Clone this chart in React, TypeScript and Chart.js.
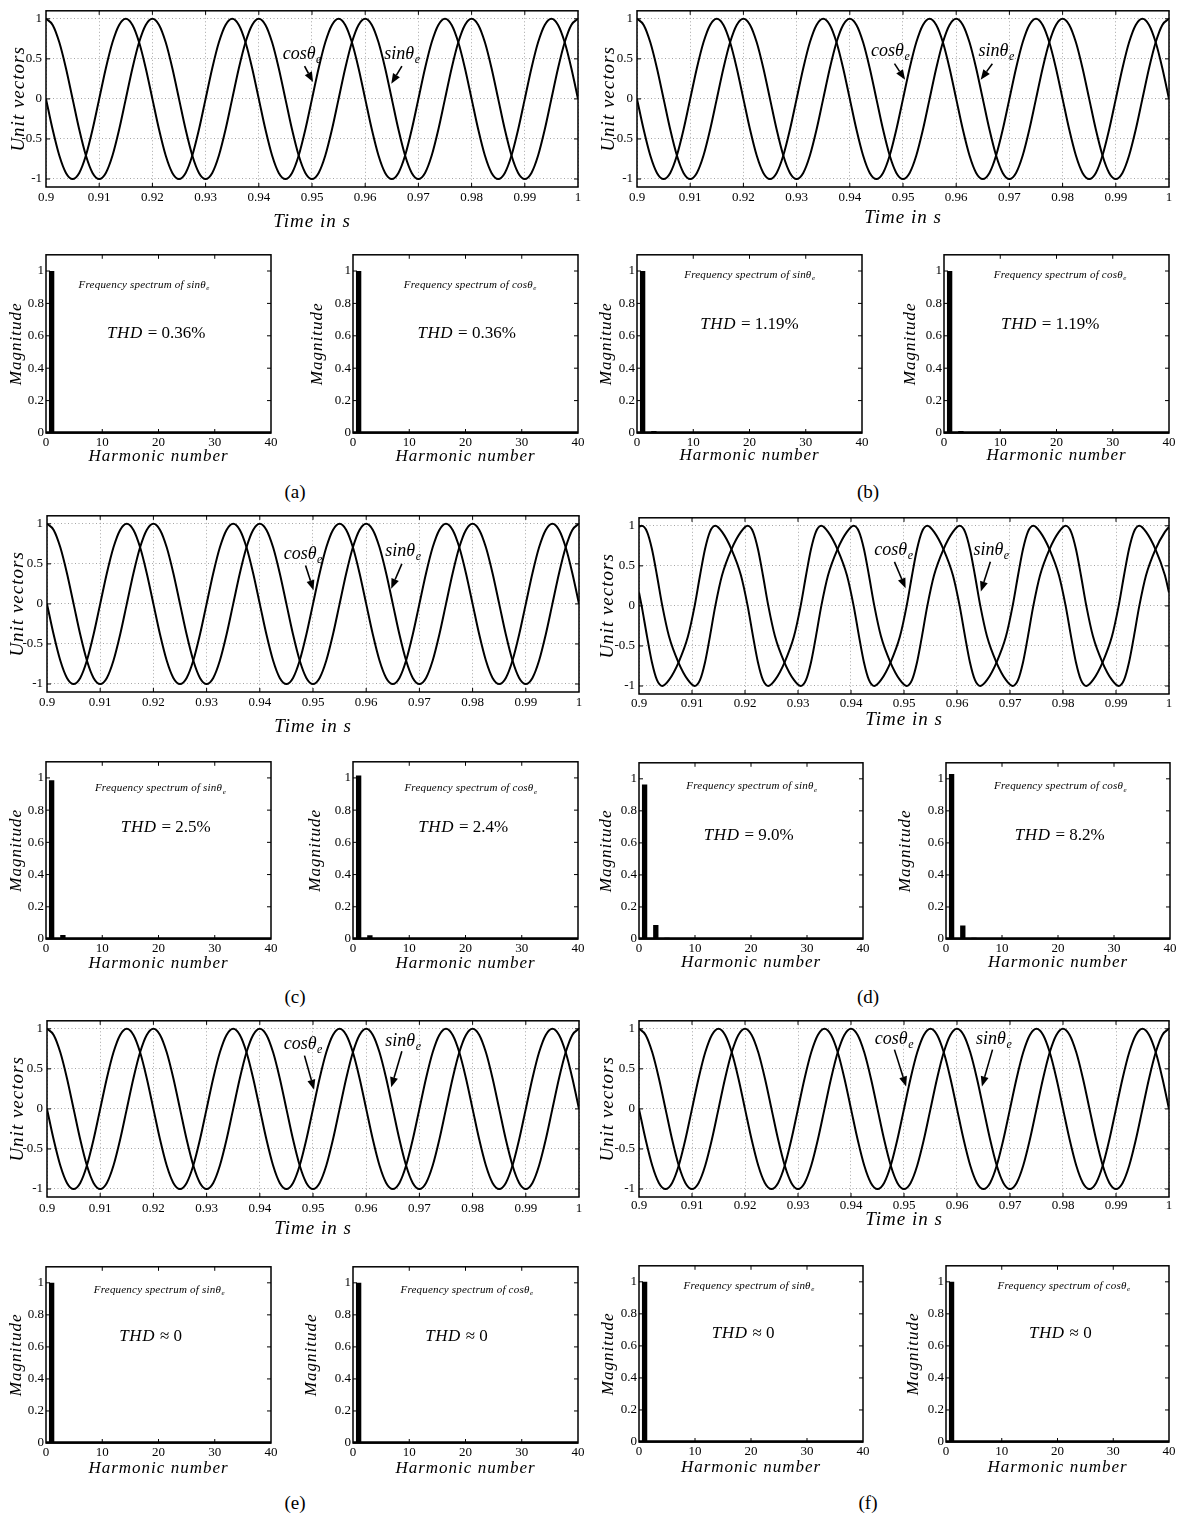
import React, { useEffect, useRef } from "react";
import { Chart, registerables } from "chart.js";
Chart.register(...registerables);

const SERIF = '"Liberation Serif", "Times New Roman", serif';

// ---------------- data ----------------
// time axis (s) for the undistorted unit vectors, panels a, b, c, e, f
const timePure = [
  0.9, 0.90125, 0.9025, 0.90375, 0.905, 0.90625, 0.9075, 0.90875,
  0.91, 0.91125, 0.9125, 0.91375, 0.915, 0.91625, 0.9175, 0.91875,
  0.92, 0.92125, 0.9225, 0.92375, 0.925, 0.92625, 0.9275, 0.92875,
  0.93, 0.93125, 0.9325, 0.93375, 0.935, 0.93625, 0.9375, 0.93875,
  0.94, 0.94125, 0.9425, 0.94375, 0.945, 0.94625, 0.9475, 0.94875,
  0.95, 0.95125, 0.9525, 0.95375, 0.955, 0.95625, 0.9575, 0.95875,
  0.96, 0.96125, 0.9625, 0.96375, 0.965, 0.96625, 0.9675, 0.96875,
  0.97, 0.97125, 0.9725, 0.97375, 0.975, 0.97625, 0.9775, 0.97875,
  0.98, 0.98125, 0.9825, 0.98375, 0.985, 0.98625, 0.9875, 0.98875,
  0.99, 0.99125, 0.9925, 0.99375, 0.995, 0.99625, 0.9975, 0.99875,
  1,
];
const sinPure = [
  1, 0.924, 0.707, 0.383, 0, -0.383, -0.707, -0.924,
  -1, -0.924, -0.707, -0.383, 0, 0.383, 0.707, 0.924,
  1, 0.924, 0.707, 0.383, 0, -0.383, -0.707, -0.924,
  -1, -0.924, -0.707, -0.383, 0, 0.383, 0.707, 0.924,
  1, 0.924, 0.707, 0.383, 0, -0.383, -0.707, -0.924,
  -1, -0.924, -0.707, -0.383, 0, 0.383, 0.707, 0.924,
  1, 0.924, 0.707, 0.383, 0, -0.383, -0.707, -0.924,
  -1, -0.924, -0.707, -0.383, 0, 0.383, 0.707, 0.924,
  1, 0.924, 0.707, 0.383, 0, -0.383, -0.707, -0.924,
  -1, -0.924, -0.707, -0.383, 0, 0.383, 0.707, 0.924,
  1,
];
const cosPure = [
  0, -0.383, -0.707, -0.924, -1, -0.924, -0.707, -0.383,
  0, 0.383, 0.707, 0.924, 1, 0.924, 0.707, 0.383,
  0, -0.383, -0.707, -0.924, -1, -0.924, -0.707, -0.383,
  0, 0.383, 0.707, 0.924, 1, 0.924, 0.707, 0.383,
  0, -0.383, -0.707, -0.924, -1, -0.924, -0.707, -0.383,
  0, 0.383, 0.707, 0.924, 1, 0.924, 0.707, 0.383,
  0, -0.383, -0.707, -0.924, -1, -0.924, -0.707, -0.383,
  0, 0.383, 0.707, 0.924, 1, 0.924, 0.707, 0.383,
  0, -0.383, -0.707, -0.924, -1, -0.924, -0.707, -0.383,
  0, 0.383, 0.707, 0.924, 1, 0.924, 0.707, 0.383,
  0,
];
// distorted unit vectors, panel d (times where the curves pass the read levels)
const timeDist = [
  0.9,
  0.9005, 0.90152, 0.90245, 0.90338, 0.9044, 0.90567, 0.90745, 0.90923,
  0.9105, 0.91152, 0.91245, 0.91338, 0.9144, 0.91567, 0.91745, 0.91923,
  0.9205, 0.92152, 0.92245, 0.92338, 0.9244, 0.92567, 0.92745, 0.92923,
  0.9305, 0.93152, 0.93245, 0.93338, 0.9344, 0.93567, 0.93745, 0.93923,
  0.9405, 0.94152, 0.94245, 0.94338, 0.9444, 0.94567, 0.94745, 0.94923,
  0.9505, 0.95152, 0.95245, 0.95338, 0.9544, 0.95567, 0.95745, 0.95923,
  0.9605, 0.96152, 0.96245, 0.96338, 0.9644, 0.96567, 0.96745, 0.96923,
  0.9705, 0.97152, 0.97245, 0.97338, 0.9744, 0.97567, 0.97745, 0.97923,
  0.9805, 0.98152, 0.98245, 0.98338, 0.9844, 0.98567, 0.98745, 0.98923,
  0.9905, 0.99152, 0.99245, 0.99338, 0.9944, 0.99567, 0.99745, 0.99923,
  1,
];
const sinDist = [
  0.986,
  1, 0.924, 0.707, 0.383, 0, -0.383, -0.707, -0.924,
  -1, -0.924, -0.707, -0.383, 0, 0.383, 0.707, 0.924,
  1, 0.924, 0.707, 0.383, 0, -0.383, -0.707, -0.924,
  -1, -0.924, -0.707, -0.383, 0, 0.383, 0.707, 0.924,
  1, 0.924, 0.707, 0.383, 0, -0.383, -0.707, -0.924,
  -1, -0.924, -0.707, -0.383, 0, 0.383, 0.707, 0.924,
  1, 0.924, 0.707, 0.383, 0, -0.383, -0.707, -0.924,
  -1, -0.924, -0.707, -0.383, 0, 0.383, 0.707, 0.924,
  1, 0.924, 0.707, 0.383, 0, -0.383, -0.707, -0.924,
  -1, -0.924, -0.707, -0.383, 0, 0.383, 0.707, 0.924,
  0.986,
];
const cosDist = [
  0.167,
  0, -0.383, -0.707, -0.924, -1, -0.924, -0.707, -0.383,
  0, 0.383, 0.707, 0.924, 1, 0.924, 0.707, 0.383,
  0, -0.383, -0.707, -0.924, -1, -0.924, -0.707, -0.383,
  0, 0.383, 0.707, 0.924, 1, 0.924, 0.707, 0.383,
  0, -0.383, -0.707, -0.924, -1, -0.924, -0.707, -0.383,
  0, 0.383, 0.707, 0.924, 1, 0.924, 0.707, 0.383,
  0, -0.383, -0.707, -0.924, -1, -0.924, -0.707, -0.383,
  0, 0.383, 0.707, 0.924, 1, 0.924, 0.707, 0.383,
  0, -0.383, -0.707, -0.924, -1, -0.924, -0.707, -0.383,
  0, 0.383, 0.707, 0.924, 1, 0.924, 0.707, 0.383,
  0.167,
];

const timeTicks = [0.9, 0.91, 0.92, 0.93, 0.94, 0.95, 0.96, 0.97, 0.98, 0.99, 1];
const unitTicks = [-1, -0.5, 0, 0.5, 1];
const harmonicTicks = [0, 10, 20, 30, 40];
const magnitudeTicks = [0, 0.2, 0.4, 0.6, 0.8, 1];

const harmonicNumbers = [
  1, 2, 3, 4, 5, 6, 7, 8, 9, 10, 11, 12, 13, 14, 15, 16, 17, 18, 19, 20,
  21, 22, 23, 24, 25, 26, 27, 28, 29, 30, 31, 32, 33, 34, 35, 36, 37, 38, 39, 40,
];
const specSinA = [1, 0, 0.003, 0, 0.001, 0, 0, 0, 0, 0, 0, 0, 0, 0, 0, 0, 0, 0, 0, 0, 0, 0, 0, 0, 0, 0, 0, 0, 0, 0, 0, 0, 0, 0, 0, 0, 0, 0, 0, 0];
const specCosA = [1, 0, 0.003, 0, 0.001, 0, 0, 0, 0, 0, 0, 0, 0, 0, 0, 0, 0, 0, 0, 0, 0, 0, 0, 0, 0, 0, 0, 0, 0, 0, 0, 0, 0, 0, 0, 0, 0, 0, 0, 0];
const specSinB = [1, 0, 0.012, 0, 0.002, 0, 0, 0, 0, 0, 0, 0, 0, 0, 0, 0, 0, 0, 0, 0, 0, 0, 0, 0, 0, 0, 0, 0, 0, 0, 0, 0, 0, 0, 0, 0, 0, 0, 0, 0];
const specCosB = [1, 0, 0.012, 0, 0.002, 0, 0, 0, 0, 0, 0, 0, 0, 0, 0, 0, 0, 0, 0, 0, 0, 0, 0, 0, 0, 0, 0, 0, 0, 0, 0, 0, 0, 0, 0, 0, 0, 0, 0, 0];
const specSinC = [0.985, 0, 0.025, 0, 0.003, 0, 0, 0, 0, 0, 0, 0, 0, 0, 0, 0, 0, 0, 0, 0, 0, 0, 0, 0, 0, 0, 0, 0, 0, 0, 0, 0, 0, 0, 0, 0, 0, 0, 0, 0];
const specCosC = [1.015, 0, 0.024, 0, 0.003, 0, 0, 0, 0, 0, 0, 0, 0, 0, 0, 0, 0, 0, 0, 0, 0, 0, 0, 0, 0, 0, 0, 0, 0, 0, 0, 0, 0, 0, 0, 0, 0, 0, 0, 0];
const specSinD = [0.965, 0, 0.088, 0, 0.008, 0, 0.002, 0, 0, 0, 0, 0, 0, 0, 0, 0, 0, 0, 0, 0, 0, 0, 0, 0, 0, 0, 0, 0, 0, 0, 0, 0, 0, 0, 0, 0, 0, 0, 0, 0];
const specCosD = [1.03, 0, 0.084, 0, 0.008, 0, 0.002, 0, 0, 0, 0, 0, 0, 0, 0, 0, 0, 0, 0, 0, 0, 0, 0, 0, 0, 0, 0, 0, 0, 0, 0, 0, 0, 0, 0, 0, 0, 0, 0, 0];
const specSinE = [1, 0, 0, 0, 0, 0, 0, 0, 0, 0, 0, 0, 0, 0, 0, 0, 0, 0, 0, 0, 0, 0, 0, 0, 0, 0, 0, 0, 0, 0, 0, 0, 0, 0, 0, 0, 0, 0, 0, 0];
const specCosE = [1, 0, 0, 0, 0, 0, 0, 0, 0, 0, 0, 0, 0, 0, 0, 0, 0, 0, 0, 0, 0, 0, 0, 0, 0, 0, 0, 0, 0, 0, 0, 0, 0, 0, 0, 0, 0, 0, 0, 0];
const specSinF = [1, 0, 0, 0, 0, 0, 0, 0, 0, 0, 0, 0, 0, 0, 0, 0, 0, 0, 0, 0, 0, 0, 0, 0, 0, 0, 0, 0, 0, 0, 0, 0, 0, 0, 0, 0, 0, 0, 0, 0];
const specCosF = [1, 0, 0, 0, 0, 0, 0, 0, 0, 0, 0, 0, 0, 0, 0, 0, 0, 0, 0, 0, 0, 0, 0, 0, 0, 0, 0, 0, 0, 0, 0, 0, 0, 0, 0, 0, 0, 0, 0, 0];

const thdSinLabels = ["= 0.36%", "= 1.19%", "= 2.5%", "= 9.0%", "≈ 0", "≈ 0"];
const thdCosLabels = ["= 0.36%", "= 1.19%", "= 2.4%", "= 8.2%", "≈ 0", "≈ 0"];
const panelLabels = ["(a)", "(b)", "(c)", "(d)", "(e)", "(f)"];

// ---------------- layout ----------------
type Box = { L: number; R: number; T: number; B: number };
type Pt = [number, number];
type Arr = [number, number, number, number];

const timePanels = [
  { box: { L: 46, R: 578, T: 7, B: 187 }, tickPad: 4, titleOff: 35, yTitleOff: 27, time: timePure, sin: sinPure, cos: cosPure,
    cosText: [0.9445, 0.5] as Pt, cosArrow: [0.9486, 0.41, 0.9502, 0.21] as Arr, sinText: [0.9636, 0.5] as Pt, sinArrow: [0.9669, 0.41, 0.9649, 0.19] as Arr },
  { box: { L: 637, R: 1169, T: 7, B: 187 }, tickPad: 4, titleOff: 31, yTitleOff: 28, time: timePure, sin: sinPure, cos: cosPure,
    cosText: [0.944, 0.53] as Pt, cosArrow: [0.9484, 0.44, 0.9504, 0.24] as Arr, sinText: [0.9642, 0.53] as Pt, sinArrow: [0.9668, 0.44, 0.9646, 0.24] as Arr },
  { box: { L: 47, R: 579, T: 512, B: 692 }, tickPad: 4, titleOff: 35, yTitleOff: 29, time: timePure, sin: sinPure, cos: cosPure,
    cosText: [0.9445, 0.56] as Pt, cosArrow: [0.9486, 0.48, 0.9501, 0.17] as Arr, sinText: [0.9636, 0.6] as Pt, sinArrow: [0.9667, 0.5, 0.9647, 0.19] as Arr },
  { box: { L: 639, R: 1169, T: 514, B: 694 }, tickPad: 3, titleOff: 26, yTitleOff: 31, time: timeDist, sin: sinDist, cos: cosDist,
    cosText: [0.9444, 0.64] as Pt, cosArrow: [0.9482, 0.55, 0.9503, 0.22] as Arr, sinText: [0.9631, 0.64] as Pt, sinArrow: [0.9663, 0.55, 0.9645, 0.18] as Arr },
  { box: { L: 47, R: 579, T: 1017, B: 1197 }, tickPad: 5, titleOff: 32, yTitleOff: 29, time: timePure, sin: sinPure, cos: cosPure,
    cosText: [0.9445, 0.75] as Pt, cosArrow: [0.9484, 0.665, 0.9502, 0.24] as Arr, sinText: [0.9636, 0.79] as Pt, sinArrow: [0.9667, 0.72, 0.9647, 0.27] as Arr },
  { box: { L: 639, R: 1169, T: 1017, B: 1197 }, tickPad: 2, titleOff: 23, yTitleOff: 31, time: timePure, sin: sinPure, cos: cosPure,
    cosText: [0.9445, 0.81] as Pt, cosArrow: [0.9482, 0.74, 0.9504, 0.28] as Arr, sinText: [0.9636, 0.81] as Pt, sinArrow: [0.9667, 0.74, 0.9647, 0.28] as Arr },
];

const specPanels = [
  { box: { L: 46, R: 271, T: 253, B: 433 }, titleOff: 24, yTitleOff: 29, vals: specSinA, which: "sin", freq: [17.4, 0.922] as Pt, thd: [19.6, 0.626] as Pt, thdLabel: thdSinLabels[0] },
  { box: { L: 353, R: 578, T: 253, B: 433 }, titleOff: 24, yTitleOff: 35, vals: specCosA, which: "cos", freq: [20.8, 0.922] as Pt, thd: [20.2, 0.626] as Pt, thdLabel: thdCosLabels[0] },
  { box: { L: 637, R: 862, T: 253, B: 433 }, titleOff: 23, yTitleOff: 30, vals: specSinB, which: "sin", freq: [20.0, 0.983] as Pt, thd: [20.0, 0.681] as Pt, thdLabel: thdSinLabels[1] },
  { box: { L: 944, R: 1169, T: 253, B: 433 }, titleOff: 23, yTitleOff: 33, vals: specCosB, which: "cos", freq: [20.6, 0.983] as Pt, thd: [18.9, 0.681] as Pt, thdLabel: thdCosLabels[1] },
  { box: { L: 46, R: 271, T: 760, B: 939 }, titleOff: 25, yTitleOff: 29, vals: specSinC, which: "sin", freq: [20.3, 0.943] as Pt, thd: [21.3, 0.7] as Pt, thdLabel: thdSinLabels[2] },
  { box: { L: 353, R: 578, T: 760, B: 939 }, titleOff: 25, yTitleOff: 37, vals: specCosC, which: "cos", freq: [20.9, 0.943] as Pt, thd: [19.6, 0.7] as Pt, thdLabel: thdCosLabels[2] },
  { box: { L: 639, R: 863, T: 761, B: 939 }, titleOff: 24, yTitleOff: 32, vals: specSinD, which: "sin", freq: [20.1, 0.96] as Pt, thd: [19.6, 0.657] as Pt, thdLabel: thdSinLabels[3] },
  { box: { L: 946, R: 1170, T: 761, B: 939 }, titleOff: 24, yTitleOff: 40, vals: specCosD, which: "cos", freq: [20.4, 0.96] as Pt, thd: [20.3, 0.653] as Pt, thdLabel: thdCosLabels[3] },
  { box: { L: 46, R: 271, T: 1265, B: 1443 }, titleOff: 26, yTitleOff: 29, vals: specSinE, which: "sin", freq: [20.1, 0.962] as Pt, thd: [18.6, 0.672] as Pt, thdLabel: thdSinLabels[4] },
  { box: { L: 353, R: 578, T: 1265, B: 1443 }, titleOff: 26, yTitleOff: 41, vals: specCosE, which: "cos", freq: [20.2, 0.962] as Pt, thd: [18.4, 0.672] as Pt, thdLabel: thdCosLabels[4] },
  { box: { L: 639, R: 863, T: 1264, B: 1442 }, titleOff: 26, yTitleOff: 30, vals: specSinF, which: "sin", freq: [19.6, 0.98] as Pt, thd: [18.6, 0.687] as Pt, thdLabel: thdSinLabels[5] },
  { box: { L: 946, R: 1169, T: 1264, B: 1442 }, titleOff: 26, yTitleOff: 32, vals: specCosF, which: "cos", freq: [21.1, 0.98] as Pt, thd: [20.5, 0.687] as Pt, thdLabel: thdCosLabels[5] },
];

const labelPos: Pt[] = [[295, 492], [868, 492], [295, 997], [868, 997], [295, 1503], [868, 1503]];

// ---------------- drawing helpers ----------------
function line(ctx: CanvasRenderingContext2D, x1: number, y1: number, x2: number, y2: number) {
  ctx.beginPath();
  ctx.moveTo(x1, y1);
  ctx.lineTo(x2, y2);
  ctx.stroke();
}

function drawSub(ctx: CanvasRenderingContext2D, x: number, y: number, main: string, sub: string, size: number, center: boolean) {
  const subSize = Math.round(size * 0.68);
  ctx.font = `italic ${size}px ${SERIF}`;
  const w1 = ctx.measureText(main).width;
  ctx.font = `italic ${subSize}px ${SERIF}`;
  const w2 = ctx.measureText(sub).width;
  const x0 = center ? x - (w1 + w2) / 2 : x;
  ctx.textAlign = "left";
  ctx.textBaseline = "alphabetic";
  ctx.font = `italic ${size}px ${SERIF}`;
  ctx.fillText(main, x0, y);
  ctx.font = `italic ${subSize}px ${SERIF}`;
  ctx.fillText(sub, x0 + w1 + 0.5, y + size * 0.22);
}

function drawArrow(ctx: CanvasRenderingContext2D, x1: number, y1: number, x2: number, y2: number) {
  const a = Math.atan2(y2 - y1, x2 - x1);
  const hl = 10, hw = 4;
  const bx = x2 - hl * Math.cos(a), by = y2 - hl * Math.sin(a);
  ctx.lineWidth = 1.6;
  line(ctx, x1, y1, bx, by);
  ctx.beginPath();
  ctx.moveTo(x2, y2);
  ctx.lineTo(bx + hw * Math.sin(a), by - hw * Math.cos(a));
  ctx.lineTo(bx - hw * Math.sin(a), by + hw * Math.cos(a));
  ctx.closePath();
  ctx.fill();
}

function drawFrame(chart: any, xt: number[], yt: number[], thickBottom: boolean) {
  const { ctx, chartArea: a, scales } = chart;
  ctx.strokeStyle = "#000";
  ctx.lineWidth = 1;
  for (const v of xt) {
    const px = scales.x.getPixelForValue(v);
    if (px <= a.left + 1 || px >= a.right - 1) continue;
    line(ctx, px, a.bottom, px, a.bottom - 4);
    line(ctx, px, a.top, px, a.top + 4);
  }
  for (const v of yt) {
    const py = scales.y.getPixelForValue(v);
    if (py <= a.top + 1 || py >= a.bottom - 1) continue;
    line(ctx, a.left, py, a.left + 4, py);
    line(ctx, a.right, py, a.right - 4, py);
  }
  ctx.lineWidth = 1.5;
  ctx.strokeRect(a.left, a.top, a.right - a.left, a.bottom - a.top);
  if (thickBottom) {
    ctx.lineWidth = 2.5;
    line(ctx, a.left, a.bottom - 0.5, a.right, a.bottom - 0.5);
  }
}

function drawTitles(chart: any, xTitle: string, yTitle: string, size: number, titleOff: number, yTitleOff: number) {
  const { ctx, chartArea: a } = chart;
  ctx.fillStyle = "#000";
  ctx.font = `italic ${size}px ${SERIF}`;
  (ctx as any).letterSpacing = "1px";
  ctx.textAlign = "center";
  ctx.textBaseline = "middle";
  ctx.fillText(xTitle, (a.left + a.right) / 2, a.bottom + titleOff);
  ctx.save();
  ctx.translate(a.left - yTitleOff, (a.top + a.bottom) / 2);
  ctx.rotate(-Math.PI / 2);
  ctx.fillText(yTitle, 0, 0);
  ctx.restore();
  (ctx as any).letterSpacing = "0px";
}

const fmt2 = (v: number) => String(Math.round(v * 100) / 100);

const tickFont = { family: SERIF, size: 13 };

// ---------------- components ----------------
function TimePlot({ p }: { p: (typeof timePanels)[number] }) {
  const ref = useRef<HTMLCanvasElement>(null);
  const PL = 52, PR = 12, PT = 8, PB = 50;
  const b: Box = p.box;
  const w = b.R - b.L + PL + PR;
  const h = b.B - b.T + PT + PB;
  useEffect(() => {
    const overlay = {
      id: "overlay",
      afterDraw(chart: any) {
        const { ctx, scales } = chart;
        ctx.save();
        drawFrame(chart, timeTicks, unitTicks, false);
        drawTitles(chart, "Time in s", "Unit vectors", 19, p.titleOff, p.yTitleOff);
        ctx.fillStyle = "#000";
        ctx.strokeStyle = "#000";
        const X = (v: number) => scales.x.getPixelForValue(v);
        const Y = (v: number) => scales.y.getPixelForValue(v);
        drawSub(ctx, X(p.cosText[0]), Y(p.cosText[1]), "cosθ", "e", 18, false);
        drawSub(ctx, X(p.sinText[0]), Y(p.sinText[1]), "sinθ", "e", 18, false);
        drawArrow(ctx, X(p.cosArrow[0]), Y(p.cosArrow[1]), X(p.cosArrow[2]), Y(p.cosArrow[3]));
        drawArrow(ctx, X(p.sinArrow[0]), Y(p.sinArrow[1]), X(p.sinArrow[2]), Y(p.sinArrow[3]));
        ctx.restore();
      },
    };
    const chart = new Chart(ref.current!, {
      type: "line",
      data: {
        datasets: [
          { data: p.time.map((t, i) => ({ x: t, y: p.sin[i] })), borderColor: "#000", borderWidth: 2, pointRadius: 0, cubicInterpolationMode: "monotone", fill: false },
          { data: p.time.map((t, i) => ({ x: t, y: p.cos[i] })), borderColor: "#000", borderWidth: 2, pointRadius: 0, cubicInterpolationMode: "monotone", fill: false },
        ],
      },
      options: {
        animation: false,
        responsive: false,
        devicePixelRatio: 1,
        layout: { padding: { left: 0, right: PR, top: PT, bottom: 0 } },
        plugins: { legend: { display: false }, tooltip: { enabled: false } },
        scales: {
          x: {
            type: "linear", min: 0.9, max: 1,
            afterFit: (s: any) => { s.height = PB; },
            afterBuildTicks: (s: any) => { s.ticks = timeTicks.map((v) => ({ value: v })); },
            grid: { drawTicks: false, color: "#8f8f8f", lineWidth: 0.8 },
            border: { display: false, dash: [1, 2.5] },
            ticks: { font: tickFont, color: "#000", padding: p.tickPad - 1, maxRotation: 0, autoSkip: false, callback: (v: any) => fmt2(Number(v)) },
          },
          y: {
            type: "linear", min: -1.1, max: 1.1,
            afterFit: (s: any) => { s.width = PL; },
            afterBuildTicks: (s: any) => { s.ticks = unitTicks.map((v) => ({ value: v })); },
            grid: { drawTicks: false, color: "#8f8f8f", lineWidth: 0.8 },
            border: { display: false, dash: [1, 2.5] },
            ticks: { font: tickFont, color: "#000", padding: 4, autoSkip: false, callback: (v: any) => fmt2(Number(v)) },
          },
        },
      } as any,
      plugins: [overlay],
    });
    return () => chart.destroy();
  }, []);
  return <canvas ref={ref} width={w} height={h} style={{ position: "absolute", left: b.L - PL, top: b.T - PT, width: w, height: h }} />;
}

function SpecPlot({ p }: { p: (typeof specPanels)[number] }) {
  const ref = useRef<HTMLCanvasElement>(null);
  const PL = 48, PR = 12, PT = 8, PB = 40;
  const b: Box = p.box;
  const w = b.R - b.L + PL + PR;
  const h = b.B - b.T + PT + PB;
  useEffect(() => {
    const overlay = {
      id: "overlay",
      afterDraw(chart: any) {
        const { ctx, scales } = chart;
        ctx.save();
        drawFrame(chart, harmonicTicks, magnitudeTicks, true);
        drawTitles(chart, "Harmonic number", "Magnitude", 17, p.titleOff, p.yTitleOff);
        ctx.fillStyle = "#000";
        const X = (v: number) => scales.x.getPixelForValue(v);
        const Y = (v: number) => scales.y.getPixelForValue(v);
        (ctx as any).letterSpacing = "0.2px";
        drawSub(ctx, X(p.freq[0]), Y(p.freq[1]) + 4, `Frequency spectrum of ${p.which}θ`, "e", 11, true);
        (ctx as any).letterSpacing = "0px";
        // THD text: italic THD, upright rest
        const size = 17;
        ctx.font = `italic ${size}px ${SERIF}`;
        (ctx as any).letterSpacing = "0.6px";
        const w1 = ctx.measureText("THD ").width;
        (ctx as any).letterSpacing = "0px";
        ctx.font = `${size}px ${SERIF}`;
        const w2 = ctx.measureText(p.thdLabel).width;
        const x0 = X(p.thd[0]) - (w1 + w2) / 2;
        const yb = Y(p.thd[1]) + size * 0.35;
        ctx.textAlign = "left";
        ctx.textBaseline = "alphabetic";
        ctx.font = `italic ${size}px ${SERIF}`;
        (ctx as any).letterSpacing = "0.6px";
        ctx.fillText("THD ", x0, yb);
        (ctx as any).letterSpacing = "0px";
        ctx.font = `${size}px ${SERIF}`;
        ctx.fillText(p.thdLabel, x0 + w1, yb);
        ctx.restore();
      },
    };
    const chart = new Chart(ref.current!, {
      type: "bar",
      data: {
        datasets: [
          { data: harmonicNumbers.map((hn, i) => ({ x: hn, y: p.vals[i] })), backgroundColor: "#000", borderWidth: 0, barPercentage: 0.95, categoryPercentage: 1 },
        ],
      },
      options: {
        animation: false,
        responsive: false,
        devicePixelRatio: 1,
        layout: { padding: { left: 0, right: PR, top: PT, bottom: 0 } },
        plugins: { legend: { display: false }, tooltip: { enabled: false } },
        scales: {
          x: {
            type: "linear", min: 0, max: 40, offset: false,
            afterFit: (s: any) => { s.height = PB; },
            afterBuildTicks: (s: any) => { s.ticks = harmonicTicks.map((v) => ({ value: v })); },
            grid: { display: false, drawTicks: false, offset: false },
            border: { display: false },
            ticks: { font: tickFont, color: "#000", padding: 2, maxRotation: 0, autoSkip: false, callback: (v: any) => fmt2(Number(v)) },
          },
          y: {
            type: "linear", min: 0, max: 1.1,
            afterFit: (s: any) => { s.width = PL; },
            afterBuildTicks: (s: any) => { s.ticks = magnitudeTicks.map((v) => ({ value: v })); },
            grid: { display: false, drawTicks: false },
            border: { display: false },
            ticks: { font: tickFont, color: "#000", padding: 2, autoSkip: false, callback: (v: any) => fmt2(Number(v)) },
          },
        },
      } as any,
      plugins: [overlay],
    });
    return () => chart.destroy();
  }, []);
  return <canvas ref={ref} width={w} height={h} style={{ position: "absolute", left: b.L - PL, top: b.T - PT, width: w, height: h }} />;
}

export default function App() {
  return (
    <div style={{ position: "absolute", left: 0, top: 0, width: 1177, height: 1519, background: "#fff", overflow: "hidden" }}>
      {timePanels.map((p, i) => <TimePlot key={"t" + i} p={p} />)}
      {specPanels.map((p, i) => <SpecPlot key={"s" + i} p={p} />)}
      {panelLabels.map((t, i) => (
        <div key={"l" + i} style={{ position: "absolute", left: labelPos[i][0] - 20, top: labelPos[i][1] - 12, width: 40, textAlign: "center", fontFamily: SERIF, fontSize: 19, lineHeight: "24px", color: "#000" }}>{t}</div>
      ))}
    </div>
  );
}
